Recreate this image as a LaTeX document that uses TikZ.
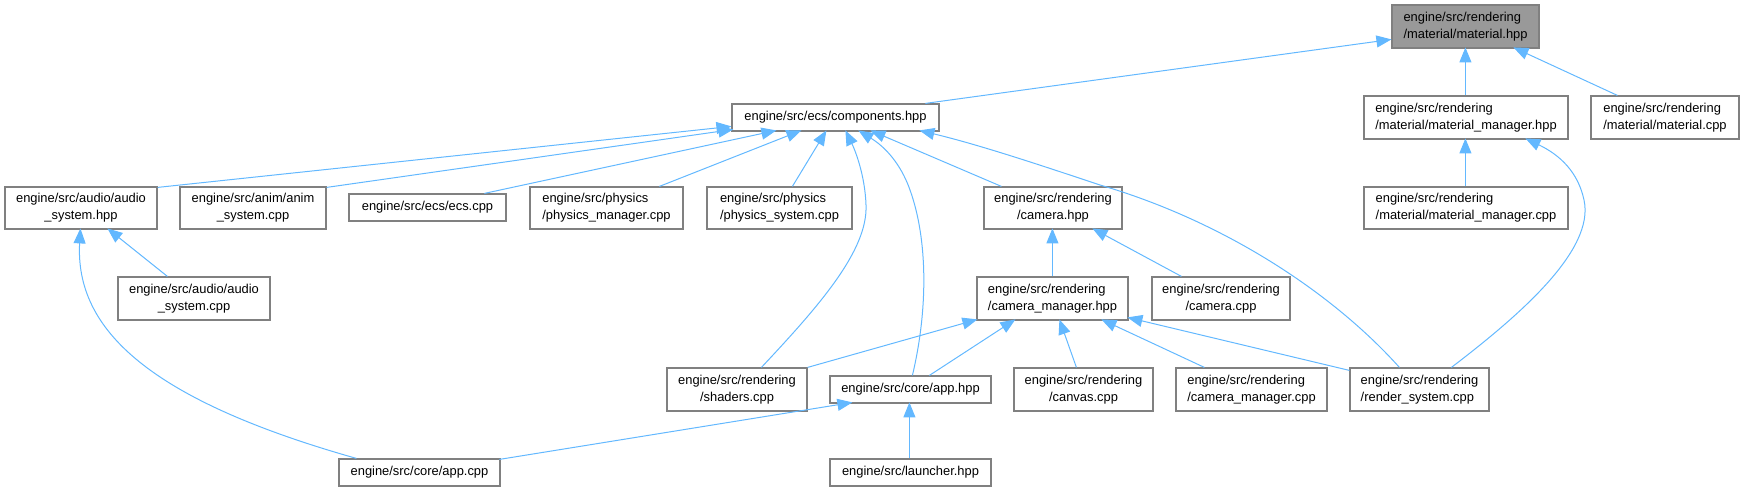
\documentclass[tikz,border=0pt]{standalone}
\usepackage{fontspec}
\setmainfont{Liberation Sans}
\usetikzlibrary{arrows.meta,calc}
\definecolor{edgecol}{HTML}{63B8FF}
\definecolor{boxcol}{HTML}{808080}
\definecolor{focusfill}{HTML}{999999}
\tikzset{
  box/.style={draw=boxcol, line width=1.2pt, fill=white, inner sep=0pt,
    font=\fontsize{12.9}{16.7}\selectfont, text=black},
  focus/.style={fill=focusfill},
  edge/.style={draw=edgecol, line width=1pt, -{Triangle[length=15pt,width=12pt]}}
}
\newcommand{\bx}[8][]{\node[box,#1,align=#7,minimum width={#5pt-#3pt},minimum height={#6pt-#4pt}] (#2) at ({(#3+#5)/2},{(#4+#6)/2}) {#8};}
\begin{document}
\begin{tikzpicture}[x=1pt,y=-1pt]
\useasboundingbox (0,0) rectangle (1744,491);
% nodes
\bx[focus]{mat}{1392}{5}{1539}{48}{left}{engine/src/rendering\\/material/material.hpp}
\bx{comp}{732}{104}{939}{131}{center}{engine/src/ecs/components.hpp}
\bx{matmgr}{1364}{96}{1568}{139}{left}{engine/src/rendering\\/material/material\_manager.hpp}
\bx{matcpp}{1591}{96}{1739}{139}{left}{engine/src/rendering\\/material/material.cpp}
\bx{matmgrcpp}{1364}{187}{1568}{229}{left}{engine/src/rendering\\/material/material\_manager.cpp}
\bx{audiohpp}{5}{187}{157}{229}{center}{engine/src/audio/audio\\\_system.hpp}
\bx{anim}{180}{187}{326}{229}{center}{engine/src/anim/anim\\\_system.cpp}
\bx{ecs}{349}{194}{506}{221}{center}{engine/src/ecs/ecs.cpp}
\bx{physmgr}{530}{187}{683}{229}{left}{engine/src/physics\\/physics\_manager.cpp}
\bx{physsys}{707}{187}{852}{229}{left}{engine/src/physics\\/physics\_system.cpp}
\bx{camhpp}{984}{187}{1122}{229}{center}{engine/src/rendering\\/camera.hpp}
\bx{cammgr}{977}{277}{1128}{320}{left}{engine/src/rendering\\/camera\_manager.hpp}
\bx{camcpp}{1152}{277}{1290}{320}{center}{engine/src/rendering\\/camera.cpp}
\bx{audiocpp}{118}{277}{270}{320}{center}{engine/src/audio/audio\\\_system.cpp}
\bx{shaders}{667}{368}{807}{411}{center}{engine/src/rendering\\/shaders.cpp}
\bx{apphpp}{830}{376}{991}{403}{center}{engine/src/core/app.hpp}
\bx{canvas}{1014}{368}{1153}{411}{center}{engine/src/rendering\\/canvas.cpp}
\bx{cammgrcpp}{1176}{368}{1327}{411}{left}{engine/src/rendering\\/camera\_manager.cpp}
\bx{render}{1350}{368}{1489}{411}{left}{engine/src/rendering\\/render\_system.cpp}
\bx{appcpp}{339}{459}{500}{486}{center}{engine/src/core/app.cpp}
\bx{launcher}{830}{459}{991}{486}{center}{engine/src/launcher.hpp}
% edges
\draw[edge] ($(comp.north west)+(194,0)$) -- ($(mat.north west)+(0,35)$);
\draw[edge] ($(matmgr.north west)+(102,0)$) -- ($(mat.north west)+(74,43)$);
\draw[edge] ($(matcpp.north west)+(27,0)$) -- ($(mat.north west)+(122,43)$);
\draw[edge] ($(matmgrcpp.north west)+(102,0)$) -- ($(matmgr.north west)+(102,43)$);
\draw[edge] ($(render.north west)+(102,0)$) .. controls (1520,315) and (1595,250) .. (1584,200) .. controls (1578,172) and (1560,155) .. ($(matmgr.north west)+(162,43)$);
\draw[edge] ($(audiohpp.north east)+(0,1)$) -- ($(comp.north west)+(0,23)$);
\draw[edge] ($(anim.north east)+(0,1)$) -- ($(comp.north west)+(2,26)$);
\draw[edge] ($(ecs.north west)+(136,0)$) -- ($(comp.north west)+(45,27)$);
\draw[edge] ($(physmgr.north west)+(130,0)$) -- ($(comp.north west)+(70,27)$);
\draw[edge] ($(physsys.north west)+(86,0)$) -- ($(comp.north west)+(95,27)$);
\draw[edge] ($(shaders.north west)+(95,0)$) .. controls (820,305) and (868,250) .. (866,205) .. controls (865,175) and (855,150) .. ($(comp.north west)+(114,27)$);
\draw[edge] ($(apphpp.north west)+(83,0)$) .. controls (928,310) and (928,240) .. (910,190) .. controls (903,170) and (890,150) .. ($(comp.north west)+(127,27)$);
\draw[edge] ($(camhpp.north west)+(18,0)$) -- ($(comp.north west)+(139,27)$);
\draw[edge] ($(render.north west)+(50,0)$) .. controls (1330,290) and (1220,220) .. (1100,185) .. controls (1040,165) and (980,145) .. ($(comp.north west)+(188,27)$);
\draw[edge] ($(audiocpp.north west)+(50,0)$) -- ($(audiohpp.north west)+(103,42)$);
\draw[edge] ($(appcpp.north west)+(18,0)$) .. controls (150,400) and (75,330) .. ($(audiohpp.north west)+(76,42)$);
\draw[edge] ($(cammgr.north west)+(76,0)$) -- ($(camhpp.north west)+(69,42)$);
\draw[edge] ($(camcpp.north west)+(30,0)$) -- ($(camhpp.north west)+(109,42)$);
\draw[edge] (shaders.north east) -- ($(cammgr.north west)+(1,43)$);
\draw[edge] ($(apphpp.north west)+(100,0)$) -- ($(cammgr.north west)+(39,43)$);
\draw[edge] ($(canvas.north west)+(63,0)$) -- ($(cammgr.north west)+(83,43)$);
\draw[edge] ($(cammgrcpp.north west)+(29,0)$) -- ($(cammgr.north west)+(125,43)$);
\draw[edge] ($(render.north west)+(0,3)$) -- ($(cammgr.north west)+(151,41)$);
\draw[edge] ($(appcpp.north west)+(161,1)$) -- ($(apphpp.north west)+(23,27)$);
\draw[edge] ($(launcher.north west)+(80,0)$) -- ($(apphpp.north west)+(80,27)$);
\end{tikzpicture}
\end{document}
